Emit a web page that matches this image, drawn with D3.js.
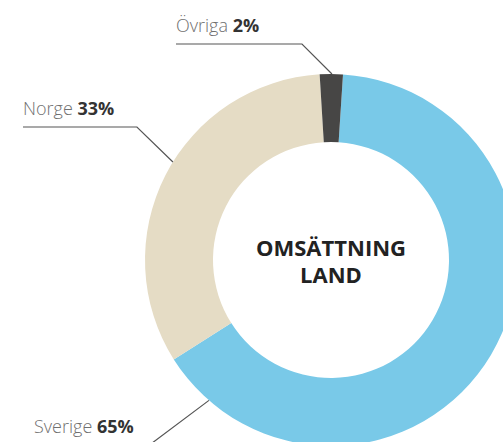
<!DOCTYPE html>
<html>
<head>
<meta charset="utf-8">
<script src="https://cdn.jsdelivr.net/npm/d3@7"></script>
<style>
  html, body { margin: 0; padding: 0; background: #fff; }
  svg { display: block; font-family: "Open Sans", sans-serif; }
</style>
</head>
<body>
<script>
// data
var countries = ["Sverige", "Norge", "Övriga"];
var shares = [65, 33, 2];
var sliceColors = ["#79c9e8", "#e5dcc5", "#474645"];
var centerTitle = ["OMSÄTTNING", "LAND"];

// layout
var width = 503, height = 442;
var cx = 331, cy = 260;
var outerR = 186, innerR = 118;
var startDeg = 3.7;

// where each leader line touches the ring, and how it bends
// angle in degrees clockwise from 12 o'clock
var leaders = [
    { angle: 221, elbowDx: -60, elbowDy: 45, lineEnd: 34 },
    { angle: 301.8, elbowDx: -36, elbowDy: -35, lineEnd: 23 },
    { angle: 0.3, elbowDx: -30, elbowDy: -30, lineEnd: 176 }
];

var rad = Math.PI / 180;

var svg = d3.select("body").append("svg")
    .attr("width", width)
    .attr("height", height);

var g = svg.append("g")
    .attr("transform", "translate(" + cx + "," + cy + ")");

var pie = d3.pie()
    .sort(null)
    .value(function (d) { return d; })
    .startAngle(startDeg * rad)
    .endAngle(startDeg * rad + 2 * Math.PI);

var arc = d3.arc()
    .innerRadius(innerR)
    .outerRadius(outerR);

var color = d3.scaleOrdinal()
    .domain(countries)
    .range(sliceColors);

var arcs = pie(shares);

g.selectAll("path.slice")
    .data(arcs)
    .enter().append("path")
    .attr("class", "slice")
    .attr("d", arc)
    .attr("fill", function (d, i) { return color(countries[i]); });

// centre title
g.append("text")
    .attr("text-anchor", "middle")
    .style("font-size", "22px")
    .style("font-weight", "700")
    .style("fill", "#222")
    .selectAll("tspan")
    .data(centerTitle)
    .enter().append("tspan")
    .attr("x", 0)
    .attr("y", function (d, i) { return -4 + i * 27; })
    .text(function (d) { return d; });

// leader lines + labels
var lab = g.selectAll("g.label")
    .data(arcs)
    .enter().append("g")
    .attr("class", "label");

function anchorPt(i) {
    var a = leaders[i].angle * rad;
    return [outerR * Math.sin(a), -outerR * Math.cos(a)];
}

lab.append("polyline")
    .attr("fill", "none")
    .attr("stroke", "#555")
    .attr("stroke-width", 1.2)
    .attr("points", function (d, i) {
        var p = anchorPt(i);
        var e = [p[0] + leaders[i].elbowDx, p[1] + leaders[i].elbowDy];
        var end = [leaders[i].lineEnd - cx, e[1]];
        return [p, e, end].map(function (q) { return q.join(","); }).join(" ");
    });

var txt = lab.append("text")
    .attr("x", function (d, i) { return leaders[i].lineEnd - cx; })
    .attr("y", function (d, i) { return anchorPt(i)[1] + leaders[i].elbowDy - 12; })
    .style("font-size", "18px");

txt.append("tspan")
    .style("fill", "#707070")
    .style("font-weight", "300")
    .text(function (d, i) { return countries[i] + " "; });

txt.append("tspan")
    .style("fill", "#333")
    .style("font-weight", "700")
    .text(function (d) { return d.data + "%"; });
</script>
</body>
</html>
